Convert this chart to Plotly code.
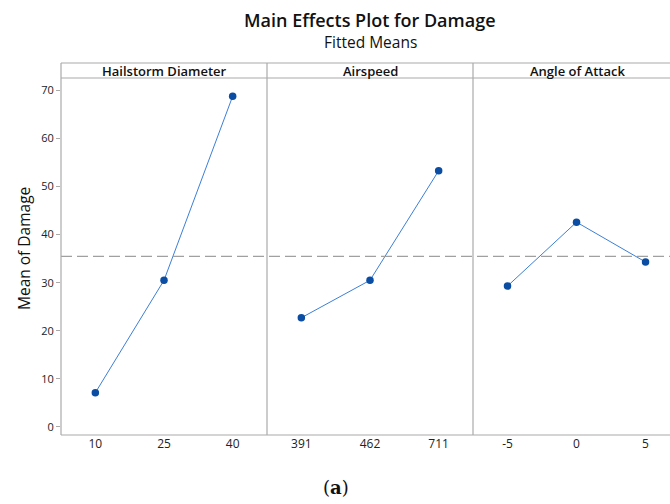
import plotly.graph_objects as go
from plotly.subplots import make_subplots

factors = ["Hailstorm Diameter", "Airspeed", "Angle of Attack"]
levels_hail = ["10", "25", "40"]
levels_air = ["391", "462", "711"]
levels_aoa = ["-5", "0", "5"]
means_hail = [7.1, 30.5, 68.8]
means_air = [22.7, 30.5, 53.3]
means_aoa = [29.3, 42.6, 34.3]
y_ticks = [0, 10, 20, 30, 40, 50, 60, 70]

all_levels = [levels_hail, levels_air, levels_aoa]
all_means = [means_hail, means_air, means_aoa]
grand_mean = sum(means_hail + means_air + means_aoa) / 9.0

W, H = 670, 504
ml, mr, mt, mb = 61, 0, 78, 69
pw = W - ml - mr
ph = H - mt - mb

fig = make_subplots(rows=1, cols=3, shared_yaxes=True, horizontal_spacing=0)

edges_px = [61, 267, 473, 670]
doms = [((edges_px[i] - ml) / pw, (edges_px[i + 1] - ml) / pw) for i in range(3)]
xranges = [[-0.5, 2.5], [-0.5, 2.5], [-0.5, 2.5 - 10 / 68.7]]

line_col = "#3C7FD6"
mark_col = "#0A4DA2"
grid_col = "#AAAAAA"
font_fam = "Open Sans, Noto Sans, sans-serif"

for i in range(3):
    fig.add_trace(
        go.Scatter(
            x=all_levels[i], y=all_means[i], mode="lines+markers",
            line=dict(color=line_col, width=1),
            marker=dict(color=mark_col, size=7.5),
            showlegend=False, hoverinfo="x+y",
        ),
        row=1, col=i + 1,
    )
    axname = "xaxis" if i == 0 else f"xaxis{i + 1}"
    fig.layout[axname].update(
        domain=list(doms[i]), type="category", range=xranges[i],
        showgrid=False, zeroline=False, showline=False,
        ticks="", tickfont=dict(size=12, color="#222", family=font_fam),
        fixedrange=True,
    )

fig.update_yaxes(
    range=[-1.7, 72.6], tickvals=y_ticks, ticks="outside", ticklen=4,
    tickcolor=grid_col, showgrid=False, zeroline=False, showline=False,
    tickfont=dict(size=11, color="#222", family=font_fam), row=1, col=1,
)
fig.update_yaxes(showticklabels=False, ticks="", showgrid=False, zeroline=False,
                 row=1, col=2)
fig.update_yaxes(showticklabels=False, ticks="", showgrid=False, zeroline=False,
                 row=1, col=3)

shapes = []
head_h = 15 / ph
# grand mean dashed line
shapes.append(dict(type="line", xref="paper", yref="y", x0=0, x1=1,
                   y0=grand_mean, y1=grand_mean,
                   line=dict(color="#A0A0A0", width=1.2, dash="11px,5px")))
# bottom axis line
shapes.append(dict(type="line", xref="paper", yref="paper", x0=0, x1=1, y0=0, y1=0,
                   line=dict(color=grid_col, width=1.2)))
# vertical dividers
for i in range(3):
    shapes.append(dict(type="line", xref="paper", yref="paper",
                       x0=doms[i][0], x1=doms[i][0], y0=0, y1=1 + head_h,
                       line=dict(color=grid_col, width=1.2)))
# header boxes
shapes.append(dict(type="line", xref="paper", yref="paper", x0=0, x1=1, y0=1, y1=1,
                   line=dict(color=grid_col, width=1.2)))
shapes.append(dict(type="line", xref="paper", yref="paper", x0=0, x1=1,
                   y0=1 + head_h, y1=1 + head_h,
                   line=dict(color=grid_col, width=1.2)))
fig.update_layout(shapes=shapes)

annotations = []
for i in range(3):
    cx = (edges_px[i] + edges_px[i + 1] + (12 if i == 2 else 0)) / 2
    annotations.append(dict(
        text=factors[i], xref="paper", yref="paper",
        x=(cx - ml) / pw, y=1 + head_h / 2, showarrow=False,
        xanchor="center", yanchor="middle",
        font=dict(size=13, color="#111", family=font_fam, weight=600),
    ))
annotations.append(dict(text="Main Effects Plot for Damage", xref="paper", yref="paper",
                        x=(370 - ml) / pw, y=1 + (mt - 20) / ph, showarrow=False,
                        xanchor="center", yanchor="middle",
                        font=dict(size=18, color="#111", family=font_fam, weight=600)))
annotations.append(dict(text="Fitted Means", xref="paper", yref="paper",
                        x=(370 - ml) / pw, y=1 + (mt - 42) / ph, showarrow=False,
                        xanchor="center", yanchor="middle",
                        font=dict(size=15.5, color="#111", family=font_fam)))
annotations.append(dict(text="Mean of Damage", xref="paper", yref="paper",
                        x=(24 - ml) / pw, y=(H - mb - 249) / ph, showarrow=False,
                        textangle=-90, xanchor="center", yanchor="middle",
                        font=dict(size=15.5, color="#111", family=font_fam)))
annotations.append(dict(text="(<b>a</b>)", xref="paper", yref="paper",
                        x=(336 - ml) / pw, y=-(487 - (H - mb)) / ph, showarrow=False,
                        xanchor="center", yanchor="middle",
                        font=dict(size=18, color="#111", family="DejaVu Serif, serif")))

fig.update_layout(
    annotations=annotations,
    width=W, height=H,
    margin=dict(l=ml, r=mr, t=mt, b=mb),
    paper_bgcolor="white", plot_bgcolor="white",
    font=dict(family=font_fam),
)

fig.write_html("out.html", config={"displayModeBar": False},
               post_script="document.body.style.margin='0';document.body.style.overflow='hidden';")
